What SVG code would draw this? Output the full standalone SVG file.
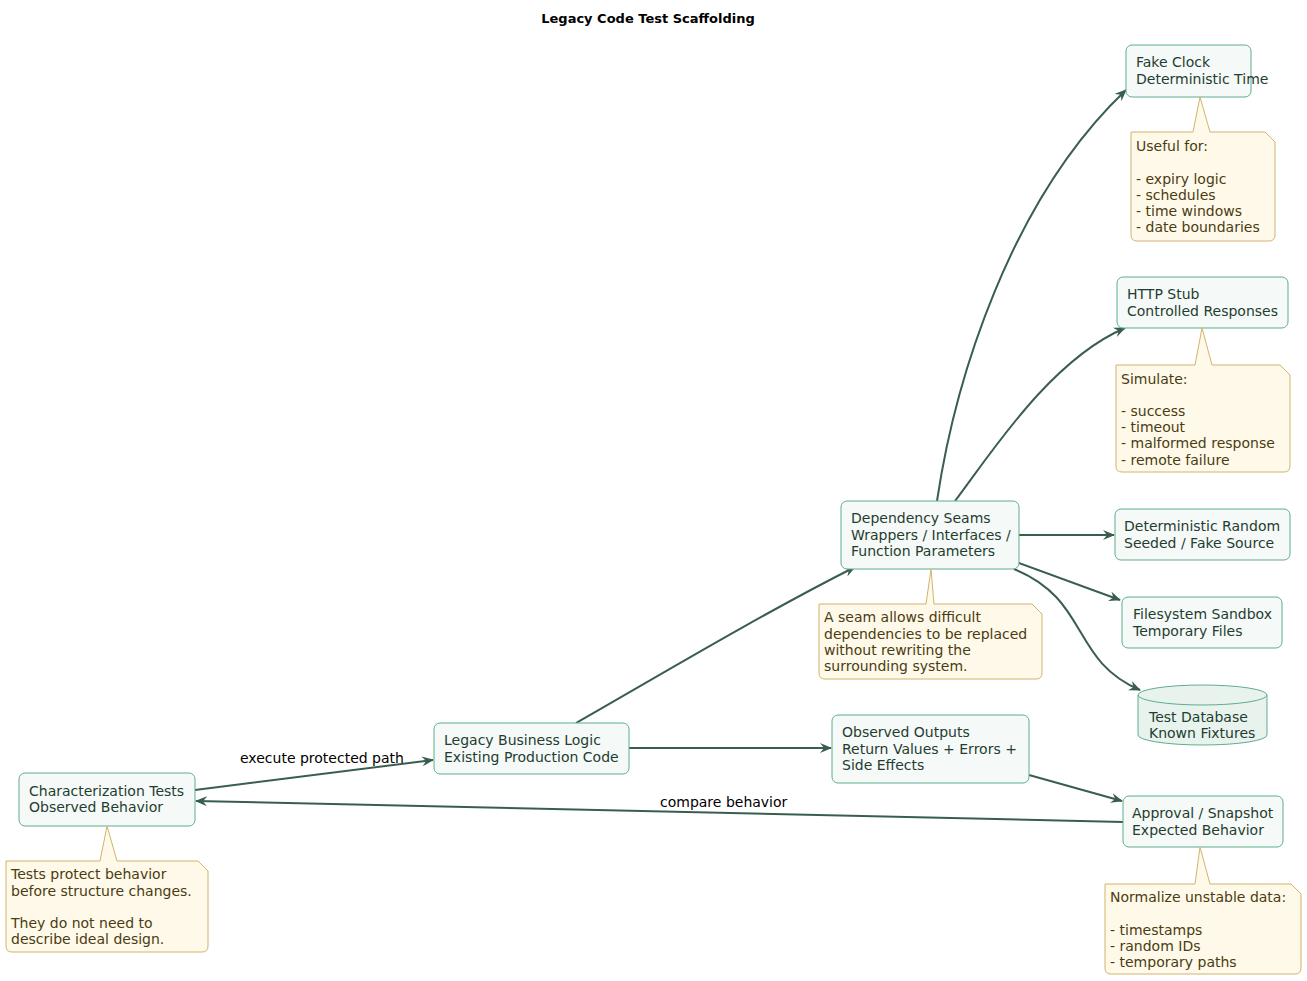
<svg xmlns="http://www.w3.org/2000/svg" width="1307" height="981" viewBox="0 0 1307 981">
<style>
text{font-family:"DejaVu Sans",sans-serif;font-size:14px}
.n{fill:#f5f9f7;stroke:#5fae8c;stroke-width:1}
.nt{fill:#1f3d30}
.no{fill:#fff9e9;stroke:#d2b46e;stroke-width:1}
.not{fill:#4a3c12}
.e{fill:none;stroke:#3a5e4e;stroke-width:2;marker-end:url(#a)}
.l{fill:#000}
</style>
<defs><marker id="a" viewBox="0 0 12 10" refX="11" refY="5" markerWidth="12" markerHeight="10" markerUnits="userSpaceOnUse" orient="auto"><path d="M0,0 L12,5 L0,10 L4,5 Z" fill="#3a5e4e"/></marker></defs>
<rect width="1307" height="981" fill="#fff"/>
<text x="648" y="23" text-anchor="middle" style="font-weight:bold;font-size:13px">Legacy Code Test Scaffolding</text>
<g id="connectors">
<path class="e" d="M937,501 C955,380 1010,200 1126,90"/>
<path class="e" d="M955,501 C990,455 1050,360 1125,328"/>
<path class="e" d="M1019,535 L1114,535"/>
<path class="e" d="M1016,562 L1120,600"/>
<path class="e" d="M1014,569 C1090,600 1070,660 1140,690"/>
<path class="e" d="M576,723 C660,675 760,615 855,567"/>
<path class="e" d="M629,748 L831,748"/>
<path class="e" d="M1029,775 L1122,801"/>
<path class="e" d="M195,790 L433,760"/>
<path class="e" d="M1123,822 L196,801"/>
<text class="l" x="240" y="763">execute protected path</text>
<text class="l" x="660" y="807">compare behavior</text>
</g>
<g id="fakeclock"><rect class="n" x="1126" y="45" width="125" height="52" rx="6"/><text class="nt" x="1136" y="67">Fake Clock</text><text class="nt" x="1136" y="84">Deterministic Time</text></g>
<g id="note-clock"><path class="no" d="M1131,132 H1193 L1200,97 L1210,132 H1265 L1275,142 V235 Q1275,241 1269,241 H1137 Q1131,241 1131,235 Z"/><text class="not" x="1136" y="151">Useful for:</text><text class="not" x="1136" y="184">- expiry logic</text><text class="not" x="1136" y="200">- schedules</text><text class="not" x="1136" y="216">- time windows</text><text class="not" x="1136" y="232">- date boundaries</text></g>
<g id="http"><rect class="n" x="1117" y="277" width="171" height="51" rx="6"/><text class="nt" x="1127" y="299">HTTP Stub</text><text class="nt" x="1127" y="316">Controlled Responses</text></g>
<g id="note-http"><path class="no" d="M1116,365 H1195 L1202,328 L1212,365 H1280 L1290,375 V466 Q1290,472 1284,472 H1122 Q1116,472 1116,466 Z"/><text class="not" x="1121" y="384">Simulate:</text><text class="not" x="1121" y="416">- success</text><text class="not" x="1121" y="432">- timeout</text><text class="not" x="1121" y="448">- malformed response</text><text class="not" x="1121" y="465">- remote failure</text></g>
<g id="seams"><rect class="n" x="841" y="501" width="178" height="68" rx="6"/><text class="nt" x="851" y="523">Dependency Seams</text><text class="nt" x="851" y="540">Wrappers / Interfaces /</text><text class="nt" x="851" y="556">Function Parameters</text></g>
<g id="note-seam"><path class="no" d="M819,604 H926 L931,569 L934,604 H1032 L1042,614 V673 Q1042,679 1036,679 H825 Q819,679 819,673 Z"/><text class="not" x="824" y="622">A seam allows difficult</text><text class="not" x="824" y="639">dependencies to be replaced</text><text class="not" x="824" y="655">without rewriting the</text><text class="not" x="824" y="671">surrounding system.</text></g>
<g id="random"><rect class="n" x="1115" y="509" width="175" height="51" rx="6"/><text class="nt" x="1124" y="531">Deterministic Random</text><text class="nt" x="1124" y="548">Seeded / Fake Source</text></g>
<g id="fs"><rect class="n" x="1122" y="597" width="160" height="51" rx="6"/><text class="nt" x="1133" y="619">Filesystem Sandbox</text><text class="nt" x="1133" y="636">Temporary Files</text></g>
<g id="db"><path d="M1138,695 V735 A64.5,10 0 0 0 1267,735 V695" fill="#e8f3ee" stroke="#5fae8c"/><ellipse cx="1202.5" cy="695" rx="64.5" ry="10" fill="#e8f3ee" stroke="#5fae8c"/><text class="nt" x="1149" y="722">Test Database</text><text class="nt" x="1149" y="738">Known Fixtures</text></g>
<g id="legacy"><rect class="n" x="434" y="723" width="195" height="51" rx="6"/><text class="nt" x="444" y="745">Legacy Business Logic</text><text class="nt" x="444" y="762">Existing Production Code</text></g>
<g id="observed"><rect class="n" x="832" y="715" width="197" height="68" rx="6"/><text class="nt" x="842" y="737">Observed Outputs</text><text class="nt" x="842" y="754">Return Values + Errors +</text><text class="nt" x="842" y="770">Side Effects</text></g>
<g id="char"><rect class="n" x="19" y="773" width="176" height="53" rx="6"/><text class="nt" x="29" y="796">Characterization Tests</text><text class="nt" x="29" y="812">Observed Behavior</text></g>
<g id="note-char"><path class="no" d="M6,861 H100 L107,826 L117,861 H198 L208,871 V946 Q208,952 202,952 H12 Q6,952 6,946 Z"/><text class="not" x="11" y="879">Tests protect behavior</text><text class="not" x="11" y="896">before structure changes.</text><text class="not" x="11" y="928">They do not need to</text><text class="not" x="11" y="944">describe ideal design.</text></g>
<g id="approval"><rect class="n" x="1123" y="796" width="160" height="51" rx="6"/><text class="nt" x="1132" y="818">Approval / Snapshot</text><text class="nt" x="1132" y="835">Expected Behavior</text></g>
<g id="note-approval"><path class="no" d="M1105,884 H1195 L1200,847 L1210,884 H1291 L1301,894 V968 Q1301,974 1295,974 H1111 Q1105,974 1105,968 Z"/><text class="not" x="1110" y="902">Normalize unstable data:</text><text class="not" x="1110" y="935">- timestamps</text><text class="not" x="1110" y="951">- random IDs</text><text class="not" x="1110" y="967">- temporary paths</text></g>
</svg>
